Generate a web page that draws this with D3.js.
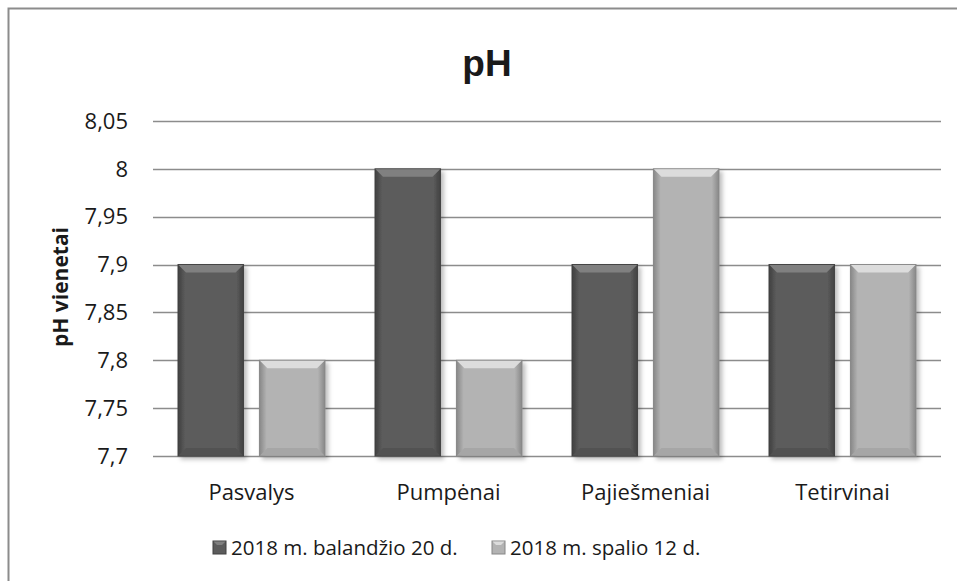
<!DOCTYPE html>
<html>
<head>
<meta charset="utf-8">
<script src="https://cdn.jsdelivr.net/npm/d3@7"></script>
<style>
  body { margin: 0; background: #fff; }
  text { font-family: "Open Sans", "Noto Sans", sans-serif; fill: #1a1a1a; }
</style>
</head>
<body>
<div id="chart"></div>
<script>
const categories = ["Pasvalys", "Pumpėnai", "Pajiešmeniai", "Tetirvinai"];
const seriesNames = ["2018 m. balandžio 20 d.", "2018 m. spalio 12 d."];
const april = [7.9, 8.0, 7.9, 7.9];
const october = [7.8, 7.8, 8.0, 7.9];
const yTicks = [7.7, 7.75, 7.8, 7.85, 7.9, 7.95, 8.0, 8.05];

const width = 957, height = 581;
const margin = { left: 153, right: 16, top: 121, bottom: 125 };

// color sets: base, light bevel, dark edge
const palettes = [
  { base: "#5c5c5c", top: "#808080", edge: "#404040", bottom: "#525252" },
  { base: "#b3b3b3", top: "#dcdcdc", edge: "#878787", bottom: "#a6a6a6" }
];

const svg = d3.select("#chart").append("svg")
  .attr("width", width)
  .attr("height", height);

const defs = svg.append("defs");
defs.append("filter").attr("id", "shadow")
  .attr("x", "-20%").attr("y", "-20%").attr("width", "150%").attr("height", "150%")
  .append("feDropShadow")
  .attr("dx", 3).attr("dy", 3).attr("stdDeviation", 2)
  .attr("flood-color", "#000").attr("flood-opacity", 0.25);

palettes.forEach(function(p, i) {
  const g = defs.append("linearGradient").attr("id", "side" + i)
    .attr("x1", 0).attr("x2", 1).attr("y1", 0).attr("y2", 0);
  g.append("stop").attr("offset", "0%").attr("stop-color", p.edge);
  g.append("stop").attr("offset", "11%").attr("stop-color", p.base);
  g.append("stop").attr("offset", "89%").attr("stop-color", p.base);
  g.append("stop").attr("offset", "100%").attr("stop-color", p.edge);
});

// frame (only top/left edges fall inside the picture)
svg.append("rect")
  .attr("x", 8.5).attr("y", 8.5)
  .attr("width", width + 20).attr("height", height + 20)
  .attr("fill", "none").attr("stroke", "#8c8c8c").attr("stroke-width", 2);

const x0 = d3.scaleBand()
  .domain(categories)
  .range([margin.left, width - margin.right]);

const x1 = d3.scaleBand()
  .domain(seriesNames)
  .range([25, x0.bandwidth() - 25])
  .paddingInner(0.195);

const y = d3.scaleLinear()
  .domain([7.7, 8.05])
  .range([height - margin.bottom, margin.top]);

const fmt = d => d3.format(".2~f")(d).replace(".", ",");

// gridlines
svg.append("g").selectAll("line")
  .data(yTicks)
  .enter().append("line")
  .attr("x1", margin.left).attr("x2", width - margin.right)
  .attr("y1", d => Math.round(y(d)) + 0.5).attr("y2", d => Math.round(y(d)) + 0.5)
  .attr("stroke", "#8c8c8c").attr("stroke-width", 1.3);

// y tick labels
svg.append("g").selectAll("text")
  .data(yTicks)
  .enter().append("text")
  .attr("x", 128)
  .attr("y", d => y(d))
  .attr("dy", "0.35em")
  .attr("text-anchor", "end")
  .attr("font-size", 22)
  .text(fmt);

// bars
const rows = [];
categories.forEach(function(c, i) {
  rows.push({ cat: c, s: 0, v: april[i] });
  rows.push({ cat: c, s: 1, v: october[i] });
});

const bars = svg.append("g").selectAll("g")
  .data(rows)
  .enter().append("g")
  .attr("transform", d => "translate(" + (x0(d.cat) + x1(seriesNames[d.s])) + "," + y(d.v) + ")");

const bw = x1.bandwidth();
const bev = 8;

bars.append("rect")
  .attr("width", bw)
  .attr("height", d => y(7.7) - y(d.v))
  .attr("fill", d => "url(#side" + d.s + ")")
  .attr("stroke", d => palettes[d.s].edge)
  .attr("stroke-width", 1)
  .attr("filter", "url(#shadow)");

// top bevel
bars.append("path")
  .attr("d", "M0.5,0.5 L" + (bw - 0.5) + ",0.5 L" + (bw - bev) + "," + bev + " L" + bev + "," + bev + " Z")
  .attr("fill", d => palettes[d.s].top);

// bottom bevel
bars.append("path")
  .attr("d", function(d) {
    const h = y(7.7) - y(d.v);
    return "M0.5," + (h - 0.5) + " L" + (bw - 0.5) + "," + (h - 0.5) + " L" + (bw - bev) + "," + (h - bev) + " L" + bev + "," + (h - bev) + " Z";
  })
  .attr("fill", d => palettes[d.s].bottom);

// category labels
svg.append("g").selectAll("text")
  .data(categories)
  .enter().append("text")
  .attr("x", d => x0(d) + x0.bandwidth() / 2)
  .attr("y", 500)
  .attr("text-anchor", "middle")
  .attr("font-size", 22)
  .text(d => d);

// title
svg.append("text")
  .attr("x", 487).attr("y", 76)
  .attr("text-anchor", "middle")
  .style("font-family", "'Liberation Sans', Arial, sans-serif")
  .attr("font-weight", "bold")
  .attr("font-size", 37)
  .attr("fill", "#000")
  .text("pH");

// y axis title
svg.append("text")
  .attr("transform", "translate(68,287) rotate(-90)")
  .attr("text-anchor", "middle")
  .attr("font-weight", "bold")
  .attr("font-size", 21)
  .attr("fill", "#000")
  .text("pH vienetai");

// legend
const legendX = [213, 492];
const legend = svg.append("g").selectAll("g")
  .data(seriesNames)
  .enter().append("g")
  .attr("transform", (d, i) => "translate(" + legendX[i] + ",541)");

legend.append("rect")
  .attr("width", 13).attr("height", 13)
  .attr("fill", (d, i) => palettes[i].base)
  .attr("stroke", (d, i) => palettes[i].edge);

legend.append("path")
  .attr("d", "M0.5,0.5 L12.5,0.5 L9,4 L4,4 Z")
  .attr("fill", (d, i) => palettes[i].top);

legend.append("text")
  .attr("x", 18).attr("y", 14)
  .attr("font-size", 20.5)
  .text(d => d);
</script>
</body>
</html>
